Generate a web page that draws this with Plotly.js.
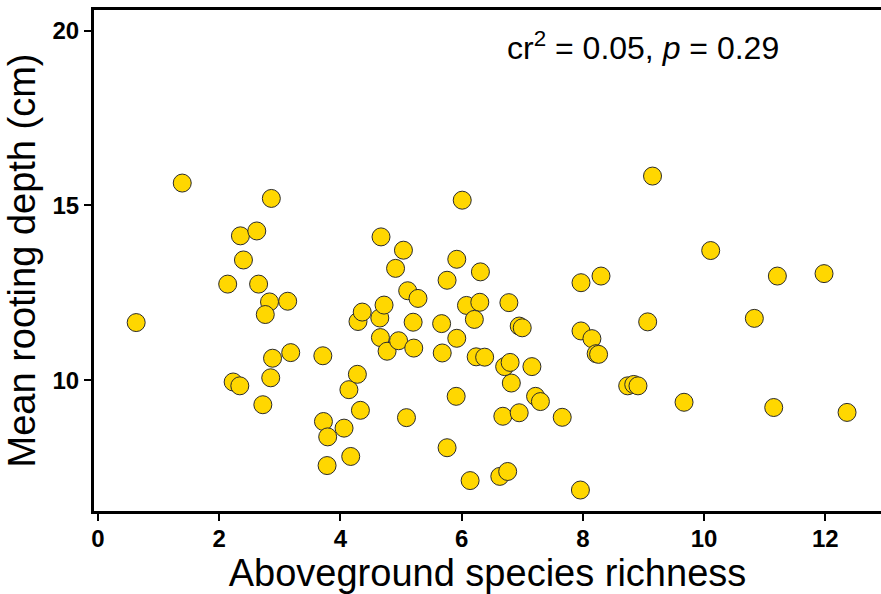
<!DOCTYPE html>
<html>
<head>
<meta charset="utf-8">
<script src="https://cdn.plot.ly/plotly-3.0.1.min.js"></script>
<style>html,body{margin:0;padding:0;background:#fff;}#chart{width:881px;height:594px;}</style>
</head>
<body>
<div id="chart"></div>
<script>
// Aboveground species richness (x) vs mean rooting depth in cm (y)
const richness = [
  0.63, 1.39, 2.86, 2.35, 2.62, 2.40, 2.14, 2.65, 2.83, 3.13,
  2.76, 3.18, 2.88, 2.23, 2.34, 2.85, 2.72, 3.71, 3.72, 3.79,
  3.78, 4.06, 4.17, 4.14, 4.33, 4.28, 4.29, 4.36, 4.65, 4.72,
  4.67, 4.66, 4.77, 4.96, 4.91, 5.04, 5.11, 5.28, 5.20, 5.21,
  5.09, 5.67, 5.68, 5.76, 5.92, 5.92, 5.91, 5.76, 6.01, 6.08,
  6.30, 6.31, 6.21, 6.24, 6.38, 6.14, 6.63, 6.76, 6.68, 6.95,
  6.82, 6.71, 6.80, 6.78, 6.95, 7.00, 7.16, 7.22, 7.30, 7.66,
  7.96, 7.97, 8.30, 7.97, 8.15, 8.22, 8.26, 8.74, 8.84, 8.91,
  9.07, 9.15, 9.67, 10.11, 10.83, 11.15, 11.21, 11.98, 12.36
];
const rootingDepth = [
  11.65, 15.64, 15.20, 14.13, 14.27, 13.44, 12.75, 12.75, 12.24, 12.26,
  11.88, 10.79, 10.63, 9.95, 9.84, 10.07, 9.30, 10.70, 8.82, 8.38,
  7.56, 8.63, 7.82, 9.73, 9.14, 10.17, 11.68, 11.95, 11.78, 12.15,
  14.10, 11.22, 10.83, 11.13, 13.20, 13.72, 12.56, 12.34, 11.66, 10.92,
  8.93, 11.62, 10.78, 12.86, 13.46, 11.20, 9.54, 8.07, 15.15, 12.14,
  12.23, 13.10, 11.74, 10.67, 10.66, 7.13, 7.25, 7.39, 8.97, 9.07,
  9.92, 10.39, 10.51, 12.22, 11.55, 11.50, 10.39, 9.54, 9.39, 8.94,
  6.86, 12.79, 12.98, 11.41, 11.19, 10.76, 10.74, 9.84, 9.88, 9.84,
  11.67, 15.84, 9.37, 13.71, 11.77, 9.22, 12.98, 13.05, 9.08
];
const xTicks = [0, 2, 4, 6, 8, 10, 12];
const yTicks = [10, 15, 20];
const statsText = 'cr<sup>2</sup> = 0.05, <i>p</i> = 0.29';

const trace = {
  type: 'scatter',
  mode: 'markers',
  x: richness,
  y: rootingDepth,
  marker: {
    size: 18,
    color: '#FFD700',
    line: {color: '#2b2b2b', width: 1}
  },
  hoverinfo: 'x+y'
};

const font = 'Liberation Sans, Arial, sans-serif';
const layout = {
  width: 881,
  height: 594,
  margin: {l: 94, r: 0, t: 10, b: 83, pad: 0},
  paper_bgcolor: '#ffffff',
  plot_bgcolor: '#ffffff',
  showlegend: false,
  xaxis: {
    range: [-0.066, 12.92],
    tickmode: 'array',
    tickvals: xTicks,
    ticktext: xTicks.map(String),
    ticks: 'outside',
    ticklen: 7,
    tickwidth: 2,
    tickcolor: '#000',
    showline: true,
    linecolor: '#000',
    linewidth: 3,
    mirror: true,
    showgrid: false,
    zeroline: false,
    ticklabelstandoff: -3,
    tickfont: {family: font, size: 24, color: '#000', weight: 'bold'},
    title: {text: 'Aboveground species richness', font: {family: font, size: 38, color: '#000'}, standoff: 0},
    automargin: false
  },
  yaxis: {
    range: [6.26, 20.59],
    tickmode: 'array',
    tickvals: yTicks,
    ticktext: yTicks.map(String),
    ticks: 'outside',
    ticklen: 7,
    tickwidth: 2,
    tickcolor: '#000',
    showline: true,
    linecolor: '#000',
    linewidth: 3,
    mirror: false,
    showgrid: false,
    zeroline: false,
    tickfont: {family: font, size: 24, color: '#000', weight: 'bold'},
    title: {text: 'Mean rooting depth (cm)', font: {family: font, size: 38, color: '#000'}, standoff: 6},
    automargin: false
  },
  annotations: [{
    xref: 'paper', yref: 'paper',
    x: 0.522, y: 0.928,
    xanchor: 'left', yanchor: 'middle',
    text: statsText,
    showarrow: false,
    font: {family: font, size: 32, color: '#000'}
  }]
};

Plotly.newPlot('chart', [trace], layout, {displayModeBar: false, staticPlot: true});
</script>
</body>
</html>
